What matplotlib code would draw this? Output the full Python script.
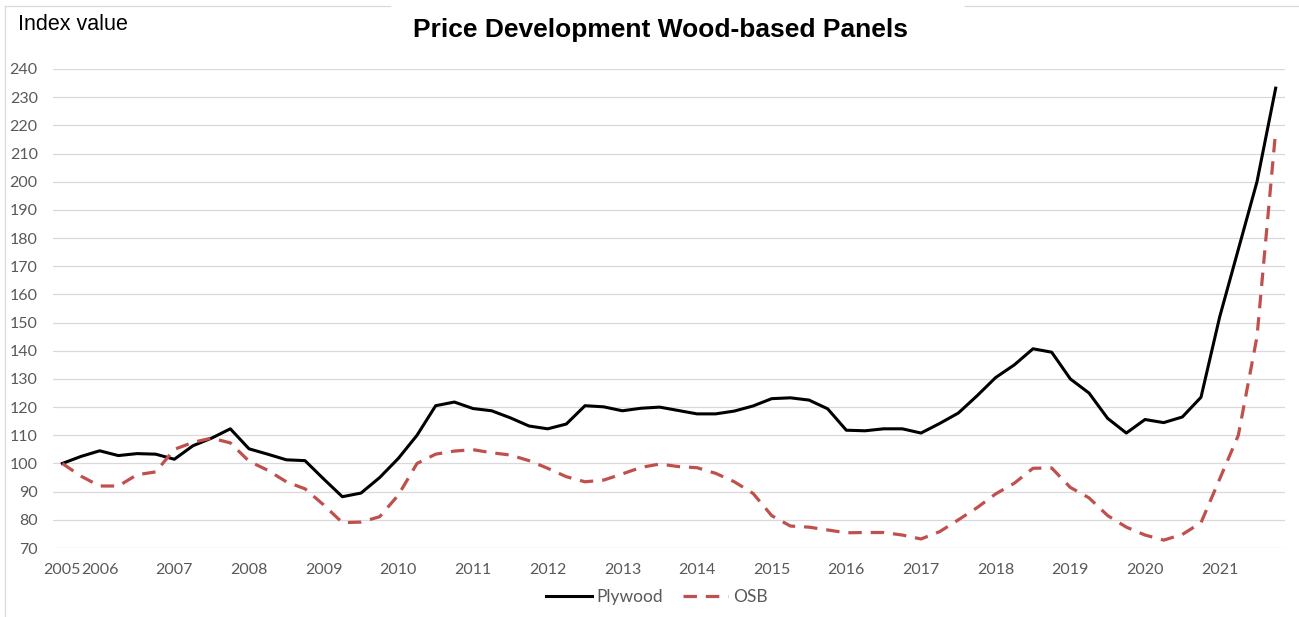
import matplotlib.pyplot as plt
import numpy as np
from matplotlib.lines import Line2D

# Quarterly index values, 2005 Q3 .. 2021 Q4 (2005 = 100)
year_labels = ['2005', '2006', '2007', '2008', '2009', '2010', '2011', '2012', '2013',
               '2014', '2015', '2016', '2017', '2018', '2019', '2020', '2021']
quarters_per_year = [2] + [4] * 16

plywood = [100, 102.5, 104.5, 102.8, 103.5, 103.3, 101.5, 106.3, 109, 112.3,
           105.2, 103.3, 101.3, 101, 94.5, 88.2, 89.5, 95, 101.8, 110,
           120.5, 121.8, 119.5, 118.7, 116.2, 113.3, 112.3, 114, 120.5, 120.1,
           118.7, 119.6, 120, 118.8, 117.6, 117.6, 118.6, 120.4, 123, 123.3,
           122.5, 119.4, 111.8, 111.6, 112.3, 112.3, 110.8, 114.2, 117.9, 124,
           130.5, 135, 140.7, 139.5, 130, 125, 116, 110.8, 115.6, 114.5,
           116.5, 123.5, 152, 176, 200, 233.2]

osb = [100, 95.5, 92, 92, 96, 97, 105, 107.5, 109, 107.3,
       100.8, 97.6, 93.5, 91, 85.3, 79, 79.2, 81.1, 88.8, 100,
       103.3, 104.4, 104.9, 103.8, 103, 101, 98.3, 95.3, 93.5, 94.1,
       96.3, 98.6, 99.8, 98.9, 98.5, 96.5, 93.5, 89.4, 81.5, 77.8,
       77.4, 76.4, 75.4, 75.5, 75.5, 74.6, 73.2, 75.8, 80, 84.3,
       89.2, 93, 98.3, 98.4, 91.5, 87.8, 81.5, 77.4, 74.6, 72.8,
       74.8, 79, 94.5, 110, 145, 218]

x = np.arange(len(plywood))
tick_pos = np.concatenate([[0], np.cumsum(quarters_per_year)[:-1]])

fig = plt.figure(figsize=(12.99, 6.17), dpi=100)
ax = fig.add_axes([53 / 1299, 1 - 548 / 617, (1285 - 53) / 1299, (548 - 69) / 617])

ax.plot(x, plywood, color='black', linewidth=2.2, label='Plywood', solid_joinstyle='round')
ax.plot(x, osb, color='#c0504d', linewidth=2.3, dashes=(4.2, 2.8), label='OSB')

ax.set_xlim(-0.5, len(plywood) - 0.5)
ax.set_ylim(70, 240)
ax.set_yticks(np.arange(70, 241, 10))
ax.set_xticks(tick_pos)
ax.set_xticklabels(year_labels)
ax.grid(axis='y', color='#d9d9d9', linewidth=0.9)
ax.set_axisbelow(True)
for s in ax.spines.values():
    s.set_visible(False)
ax.tick_params(axis='both', length=0, labelcolor='#595959', labelsize=11.5)
ax.tick_params(axis='y', pad=11)
ax.tick_params(axis='x', pad=11)
for lbl in ax.get_xticklabels() + ax.get_yticklabels():
    lbl.set_family('Lato')

fig.text(18 / 1299, 1 - 24 / 617, 'Index value', fontsize=15.5, family='Liberation Sans',
         va='center', ha='left')
fig.text(660 / 1299, 1 - 30 / 617, 'Price Development Wood-based Panels', fontsize=19,
         fontweight='bold', family='Liberation Sans', va='center', ha='center')

# light frame around the chart area
for xs, ys in [([5, 5], [6, 617]), ([5, 390], [6, 6]), ([965, 1299], [6, 6])]:
    fig.add_artist(Line2D([v / 1299 for v in xs], [1 - v / 617 for v in ys],
                          transform=fig.transFigure, color='#d9d9d9', linewidth=0.9))

leg = fig.legend(loc='center', bbox_to_anchor=(657 / 1299, 1 - 597 / 617), ncol=2,
                 frameon=False, handlelength=2.6, columnspacing=1.1,
                 handletextpad=0.3, prop={'family': 'Lato', 'size': 12.5})
for t in leg.get_texts():
    t.set_color('#595959')

fig.savefig('out.png', dpi=100)
